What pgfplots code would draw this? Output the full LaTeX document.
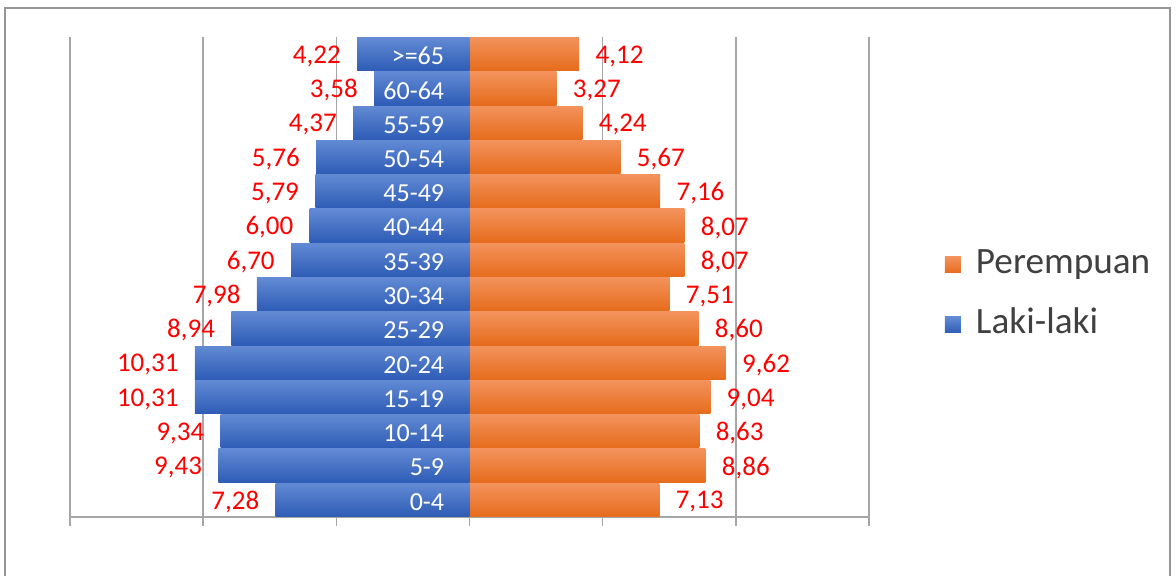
\documentclass[border=0pt]{standalone}
\usepackage{pgfplots}
\pgfplotsset{compat=1.18}
\usepackage{pgfplotstable}
\usepackage{fontspec}
\setmainfont{Carlito}

\definecolor{blueT}{RGB}{98,138,212}
\definecolor{blueB}{RGB}{46,92,182}
\definecolor{orT}{RGB}{243,146,92}
\definecolor{orB}{RGB}{230,108,28}
\definecolor{gridc}{RGB}{166,166,166}
\definecolor{framec}{RGB}{150,150,150}
\definecolor{legt}{RGB}{64,64,64}

\pgfplotstableread{
y male female label
0 7.28 7.13 0-4
1 9.43 8.86 5-9
2 9.34 8.63 10-14
3 10.31 9.04 15-19
4 10.31 9.62 20-24
5 8.94 8.60 25-29
6 7.98 7.51 30-34
7 6.70 8.07 35-39
8 6.00 8.07 40-44
9 5.79 7.16 45-49
10 5.76 5.67 50-54
11 4.37 4.24 55-59
12 3.58 3.27 60-64
13 4.22 4.12 >=65
}\datatable

\begin{document}
\begin{tikzpicture}
\path[use as bounding box] (-35pt,258.5pt) rectangle (553pt,-29.5pt);
\draw[framec, line width=0.75pt] (-32.5pt,254.5pt) rectangle (550pt,-45pt);
\begin{axis}[
  at={(0pt,0pt)}, anchor=south west,
  scale only axis, width=399.5pt, height=240pt,
  xmin=-15, xmax=15, ymin=-0.5, ymax=13.5,
  xtick={-15,-10,...,15}, xticklabels={},
  ytick=\empty,
  axis x line=bottom, axis y line=none,
  axis line style={gridc, line width=0.75pt, -},
  xmajorgrids, grid style={gridc, line width=0.75pt},
  tick style={gridc, line width=0.75pt},
  xtick align=outside, major tick length=4.5pt,
  bar width=0.97, bar shift=0pt,
  /pgf/number format/fixed, /pgf/number format/fixed zerofill,
  /pgf/number format/precision=2, /pgf/number format/use comma,
  /pgf/number format/assume math mode=true,
  legend style={at={(1.0951,0.4625)}, anchor=west, draw=none, fill=none,
    font=\fontsize{18.6}{20}\selectfont, text=legt, inner sep=0pt, outer sep=0pt,
    row sep=14pt,
    nodes={inner sep=0pt, text height=12.5pt, text depth=3.5pt},
    /tikz/every odd column/.append style={column sep=7.5pt}},
  legend cell align=left,
  legend image code/.code={\fill[#1] (0pt,-4pt) rectangle (8pt,4pt);},
]
\pgfplotsinvokeforeach{0,...,13}{
\addplot[xbar, forget plot, draw=none, top color=orT, bottom color=orB,
  restrict expr to domain={\coordindex}{#1:#1},
  nodes near coords, point meta=x,
  nodes near coords style={anchor=west, text=red, inner xsep=8pt, inner ysep=0pt,
    yshift=-1pt, font=\fontsize{13.5}{15}\selectfont}]
  table[x=female, y=y] {\datatable};
\addplot[xbar, forget plot, draw=none, top color=blueT, bottom color=blueB,
  restrict expr to domain={\coordindex}{#1:#1},
  nodes near coords, point meta=\thisrow{male},
  nodes near coords style={anchor=east, text=red, inner xsep=8pt, inner ysep=0pt,
    yshift=-1pt, font=\fontsize{13.5}{15}\selectfont}]
  table[x expr=-\thisrow{male}, y=y] {\datatable};
}
\addlegendimage{draw=none, top color=orT, bottom color=orB}
\addlegendentry{Perempuan}
\addlegendimage{draw=none, top color=blueT, bottom color=blueB}
\addlegendentry{Laki-laki}
\addplot[only marks, mark=none, forget plot,
  nodes near coords, point meta=explicit symbolic,
  nodes near coords style={anchor=east, text=white, inner sep=0pt, xshift=-12.5pt,
    yshift=-1pt, font=\fontsize{13}{15}\selectfont}]
  table[x expr=0, y=y, meta=label] {\datatable};
\end{axis}
\end{tikzpicture}
\end{document}
